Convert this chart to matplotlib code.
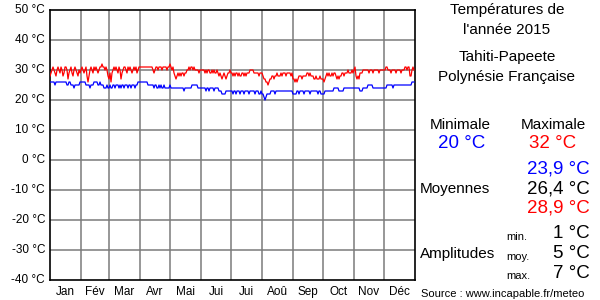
import matplotlib
matplotlib.use('Agg')
import matplotlib.pyplot as plt

# Daily maximum temperatures (°C), one line per month
tmax = (
    [28, 29, 30, 31, 30, 29, 28, 30, 31, 30, 29, 31, 30, 28, 29, 31, 31, 30, 27, 29, 30, 31, 29, 28, 30, 31, 30, 29, 28, 30, 29]
    + [30, 31, 30, 29, 30, 31, 28, 26, 28, 30, 31, 30, 29, 31, 30, 31, 30, 29, 30, 31, 31, 32, 31, 31, 30, 31, 30, 28]
    + [27, 29, 26, 29, 30, 31, 30, 31, 30, 29, 31, 30, 27, 29, 30, 31, 31, 30, 29, 31, 30, 31, 30, 29, 30, 31, 30, 31, 29, 30, 31]
    + [31, 31, 31, 31, 31, 31, 31, 31, 31, 31, 31, 31, 31, 30, 29, 30, 31, 31, 30, 31, 31, 31, 30, 31, 31, 31, 31, 30, 31, 31]
    + [32, 31, 30, 31, 29, 28, 27, 28, 29, 28, 29, 28, 29, 29, 28, 29, 29, 30, 30, 31, 30, 31, 31, 30, 31, 30, 30, 30, 30, 29, 30]
    + [30, 30, 30, 30, 29, 30, 29, 30, 30, 29, 29, 30, 29, 30, 29, 29, 30, 29, 28, 29, 28, 27, 28, 29, 28, 27, 28, 29, 29, 30]
    + [29, 29, 28, 29, 28, 29, 29, 28, 29, 28, 28, 29, 29, 28, 29, 28, 29, 29, 29, 30, 30, 30, 30, 29, 29, 29, 29, 29, 28, 29, 29]
    + [29, 28, 27, 27, 26, 26, 25, 26, 27, 27, 28, 28, 27, 28, 28, 29, 28, 28, 28, 29, 28, 29, 29, 29, 28, 29, 29, 29, 29, 28, 29]
    + [27, 27, 26, 27, 26, 27, 28, 28, 28, 27, 28, 28, 28, 28, 29, 29, 28, 29, 28, 28, 28, 27, 27, 28, 27, 27, 27, 28, 27, 27]
    + [27, 26, 27, 28, 29, 28, 29, 28, 28, 29, 28, 29, 29, 28, 27, 28, 27, 28, 28, 29, 29, 28, 29, 29, 29, 30, 29, 29, 29, 30, 29]
    + [30, 31, 28, 27, 28, 27, 29, 29, 29, 30, 30, 30, 30, 30, 30, 29, 30, 30, 30, 29, 30, 30, 30, 30, 30, 29, 30, 30, 30, 30]
    + [30, 30, 31, 31, 30, 30, 30, 29, 30, 30, 30, 30, 29, 30, 30, 30, 30, 29, 30, 30, 30, 31, 31, 30, 31, 31, 28, 28, 30, 31, 30]
)

# Daily minimum temperatures (°C)
tmin = (
    [26, 26, 26, 26, 26, 25, 26, 26, 26, 26, 26, 26, 26, 26, 26, 26, 26, 25, 25, 26, 26, 25, 25, 25, 24, 25, 25, 25, 25, 25, 26]
    + [26, 26, 26, 26, 26, 25, 25, 25, 25, 24, 25, 25, 25, 26, 26, 26, 26, 25, 25, 26, 25, 25, 25, 24, 24, 24, 25, 24]
    + [24, 25, 24, 24, 25, 25, 24, 25, 25, 25, 24, 25, 24, 25, 25, 24, 25, 25, 25, 24, 25, 25, 24, 25, 25, 25, 24, 25, 25, 26, 26]
    + [26, 26, 26, 26, 26, 26, 26, 26, 25, 25, 25, 25, 25, 25, 24, 25, 25, 24, 24, 25, 24, 25, 24, 24, 25, 24, 24, 24, 24, 24]
    + [25, 24, 24, 24, 24, 24, 24, 24, 24, 24, 24, 24, 24, 24, 23, 24, 24, 24, 24, 24, 24, 24, 25, 25, 25, 25, 25, 25, 24, 24, 24]
    + [24, 24, 24, 24, 24, 23, 24, 24, 23, 24, 24, 24, 24, 23, 24, 24, 24, 24, 23, 23, 23, 22, 22, 22, 22, 23, 23, 23, 23, 23]
    + [23, 23, 22, 23, 23, 22, 23, 23, 23, 22, 23, 23, 23, 22, 23, 23, 23, 23, 22, 23, 23, 23, 23, 23, 22, 23, 23, 23, 22, 22, 23]
    + [22, 22, 21, 20, 21, 22, 22, 22, 22, 23, 23, 23, 23, 22, 23, 23, 23, 23, 23, 23, 23, 23, 23, 23, 23, 23, 23, 23, 23, 23, 23]
    + [22, 22, 22, 22, 23, 23, 22, 23, 23, 23, 23, 22, 23, 23, 23, 23, 23, 22, 23, 23, 23, 23, 23, 23, 23, 22, 23, 23, 22, 22]
    + [22, 22, 23, 23, 23, 23, 23, 23, 23, 23, 23, 24, 24, 24, 24, 24, 23, 23, 23, 23, 23, 24, 24, 24, 24, 24, 24, 24, 24, 24, 24]
    + [24, 24, 24, 24, 24, 24, 23, 23, 23, 24, 24, 24, 24, 24, 25, 25, 25, 25, 25, 24, 24, 24, 24, 24, 24, 24, 24, 24, 24, 24]
    + [24, 24, 24, 25, 25, 25, 25, 25, 25, 24, 25, 25, 25, 25, 25, 25, 25, 25, 25, 25, 25, 25, 25, 25, 25, 25, 25, 25, 26, 26, 26]
)

months = ['Jan', 'Fév', 'Mar', 'Avr', 'Mai', 'Jui', 'Jui', 'Aoû', 'Sep', 'Oct', 'Nov', 'Déc']
month_days = [31, 28, 31, 30, 31, 30, 31, 31, 30, 31, 30, 31]
yticks = [50, 40, 30, 20, 10, 0, -10, -20, -30, -40]

plt.rcParams['font.family'] = ['Liberation Sans', 'DejaVu Sans']

W, H = 600, 300
fig = plt.figure(figsize=(6, 3), dpi=100)
fig.patch.set_facecolor('white')


def px(x, y):
    return x / W, 1 - y / H


ax = fig.add_axes([50 / W, 1 - 280 / H, 365 / W, 270 / H])
ax.set_xlim(0, 365)
ax.set_ylim(-40, 50)

# grid
starts = [0]
for d in month_days:
    starts.append(starts[-1] + d)
for s in starts[1:-1]:
    ax.axvline(s, color='#7a7a7a', lw=1.1, zorder=1)
for t in yticks[1:-1]:
    ax.axhline(t, color='#7a7a7a', lw=1.1, zorder=1)

days = list(range(len(tmax)))
ax.plot(days, tmax, color='#ff0000', lw=0.9, zorder=3)
ax.plot(days, tmin, color='#0000ff', lw=0.9, zorder=3)

for sp in ax.spines.values():
    sp.set_color('black')
    sp.set_linewidth(1.2)
ax.set_xticks([])
ax.set_yticks([])

# y labels
for t in yticks:
    y = 10 + (50 - t) * 3
    fig.text(*px(45, y), f'{t} °C', ha='right', va='center', fontsize=8.5)

# month labels
for i, m in enumerate(months):
    cx = 50 + starts[i] + month_days[i] / 2
    fig.text(*px(cx, 292), m, ha='center', va='center', fontsize=8.5)

# right panel
fig.text(*px(507, 10), 'Températures de', ha='center', va='center', fontsize=11)
fig.text(*px(507, 30), "l'année 2015", ha='center', va='center', fontsize=11)
fig.text(*px(507, 57), 'Tahiti-Papeete', ha='center', va='center', fontsize=11)
fig.text(*px(507, 77), 'Polynésie Française', ha='center', va='center', fontsize=11)

fig.text(*px(460, 125), 'Minimale', ha='center', va='center', fontsize=11)
fig.text(*px(553, 125), 'Maximale', ha='center', va='center', fontsize=11)
fig.text(*px(462, 143), '20 °C', ha='center', va='center', fontsize=13.5, color='#0000ff')
fig.text(*px(553, 143), '32 °C', ha='center', va='center', fontsize=13.5, color='#ff0000')

fig.text(*px(590, 169), '23,9 °C', ha='right', va='center', fontsize=13.5, color='#0000ff')
fig.text(*px(420, 189), 'Moyennes', ha='left', va='center', fontsize=11)
fig.text(*px(590, 189), '26,4 °C', ha='right', va='center', fontsize=13.5, color='black')
fig.text(*px(590, 208), '28,9 °C', ha='right', va='center', fontsize=13.5, color='#ff0000')

fig.text(*px(506, 237), 'min.', ha='left', va='center', fontsize=8)
fig.text(*px(590, 233), '1 °C', ha='right', va='center', fontsize=13.5)
fig.text(*px(420, 254), 'Amplitudes', ha='left', va='center', fontsize=11)
fig.text(*px(506, 257), 'moy.', ha='left', va='center', fontsize=8)
fig.text(*px(590, 253), '5 °C', ha='right', va='center', fontsize=13.5)
fig.text(*px(506, 276), 'max.', ha='left', va='center', fontsize=8)
fig.text(*px(590, 273), '7 °C', ha='right', va='center', fontsize=13.5)

fig.text(*px(421, 294), 'Source : www.incapable.fr/meteo', ha='left', va='center', fontsize=8)

fig.savefig('out.png', dpi=100, facecolor='white')
